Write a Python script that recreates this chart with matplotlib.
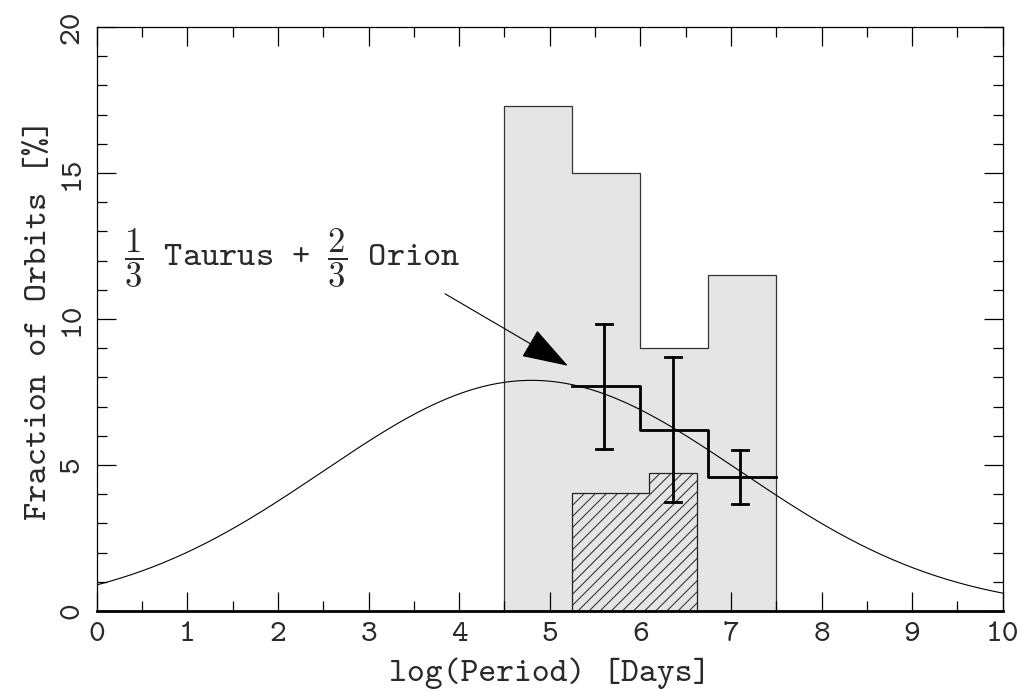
import numpy as np
import matplotlib
matplotlib.use("Agg")
import matplotlib.pyplot as plt

plt.rcParams['font.family'] = ['cmtt10', 'DejaVu Serif']
plt.rcParams['mathtext.fontset'] = 'cm'
plt.rcParams['axes.formatter.use_mathtext'] = False

# Gray histogram (all data)
gray_edges = [4.5, 5.25, 6.0, 6.75, 7.5]
gray_vals = [17.3, 15.0, 9.0, 11.5]

# Hatched histogram
hatch_edges = [5.25, 6.1, 6.63]
hatch_vals = [4.05, 4.72]

# Thick step: 1/3 Taurus + 2/3 Orion
step_edges = [5.25, 6.0, 6.75, 7.5]
step_vals = [7.7, 6.2, 4.6]

# Error bars
err_x = [5.6, 6.36, 7.1]
err_lo = [5.55, 3.72, 3.65]
err_hi = [9.82, 8.7, 5.52]

# Gaussian model (log-normal period distribution)
g_mu, g_sigma, g_peak = 4.8, 2.3, 7.9

fig = plt.figure(figsize=(10.2, 6.92), dpi=100)
ax = fig.add_axes([0.095, 0.117, 0.888, 0.844])

# gray histogram
gx = np.repeat(gray_edges, 2)
gy = np.concatenate([[0], np.repeat(gray_vals, 2), [0]])
ax.fill(gx, gy, facecolor='#e5e5e5', edgecolor='#333333', lw=0.9, zorder=1)

# hatched histogram
hx = np.repeat(hatch_edges, 2)
hy = np.concatenate([[0], np.repeat(hatch_vals, 2), [0]])
plt.rcParams['hatch.linewidth'] = 0.7
ax.fill(hx, hy, facecolor='#e5e5e5', edgecolor='#222222', hatch='///', lw=0.9, zorder=2)

# gaussian
xs = np.linspace(0, 10, 500)
ax.plot(xs, g_peak * np.exp(-(xs - g_mu) ** 2 / (2 * g_sigma ** 2)), color='black', lw=0.8, zorder=3)

# thick step
sx = np.repeat(step_edges, 2)[1:-1]
sy = np.repeat(step_vals, 2)
ax.plot(sx, sy, color='black', lw=2.0, zorder=4)

# error bars
for x, lo, hi in zip(err_x, err_lo, err_hi):
    ax.plot([x, x], [lo, hi], color='black', lw=2.0, zorder=4)
    for yv in (lo, hi):
        ax.plot([x - 0.09, x + 0.09], [yv, yv], color='black', lw=2.0, zorder=4)

txtcol = '#2a2a2a'
ax.annotate(r'$\dfrac{1}{3}$ Taurus + $\dfrac{2}{3}$ Orion', xy=(5.2, 8.4), xytext=(0.3, 12.1),
            fontsize=25, va='center', ha='left', color=txtcol,
            arrowprops=dict(arrowstyle='-|>,head_length=1.2,head_width=0.4', color='black', lw=0.8,
                            shrinkA=2, shrinkB=0, relpos=(0.9, 0.1)))

ax.set_xlim(0, 10)
ax.set_ylim(0, 20)
ax.set_xticks(range(0, 11))
ax.set_xticks(np.arange(0, 10.01, 0.5), minor=True)
ax.set_yticks(range(0, 21, 5))
ax.set_yticks(range(0, 21), minor=True)
ax.tick_params(which='both', direction='in', top=True, right=True, width=0.9,
               labelcolor=txtcol)
ax.tick_params(axis='x', labelsize=23)
ax.tick_params(axis='y', labelsize=23)
ax.tick_params(which='major', length=14, pad=8)
ax.tick_params(which='minor', length=7)
for lab in ax.get_yticklabels():
    lab.set_rotation(90)
    lab.set_va('center')
for s in ax.spines.values():
    s.set_linewidth(0.9)
ax.spines['bottom'].set_linewidth(2.0)

ax.set_xlabel('log(Period) [Days]', fontsize=24.5, labelpad=7, color=txtcol)
ax.set_ylabel('Fraction of Orbits [%]', fontsize=25, labelpad=4, color=txtcol)

fig.savefig('out.png', dpi=100)
